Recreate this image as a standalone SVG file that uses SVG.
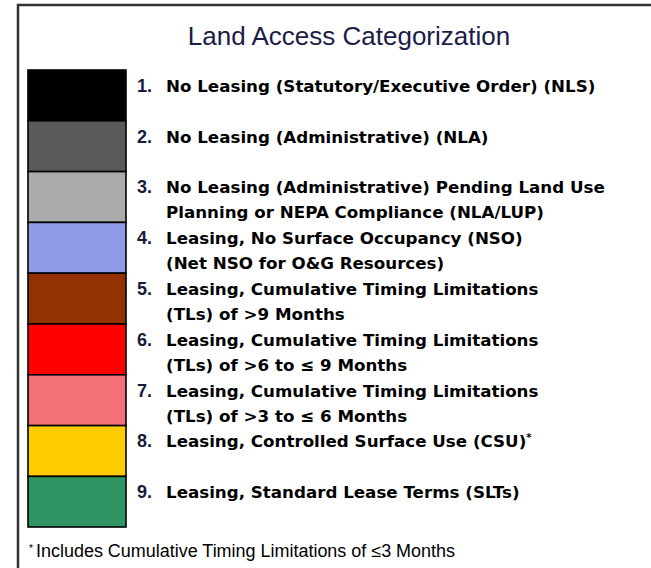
<svg xmlns="http://www.w3.org/2000/svg" width="651" height="568" viewBox="0 0 651 568">
<style>
.frame{fill:#ffffff;stroke:#333333;stroke-width:2.5}
.sw{stroke:#000000;stroke-width:1.6}
.num{font-family:"Liberation Sans",Arial,sans-serif;font-weight:bold;font-size:18px;fill:#1a1a3c}
.lbl{font-family:"DejaVu Sans","Liberation Sans",sans-serif;font-weight:bold;font-size:16.7px;fill:#000000}
.title{font-family:"Liberation Sans",Arial,sans-serif;font-size:26px;fill:#1c1c48}
.foot{font-family:"Liberation Sans",Arial,sans-serif;font-size:17.5px;fill:#000000}
</style>
<rect x="0" y="0" width="651" height="568" fill="#ffffff"/>
<rect class="frame" x="18" y="5" width="700" height="620"/>
<text class="title" x="349" y="45" text-anchor="middle">Land Access Categorization</text>
<g id="cat1">
<rect class="sw" x="28" y="70" width="98" height="50.8" fill="#000000"/>
<text class="num" x="137" y="91.8">1.</text>
<text class="lbl" x="166" y="91.8">No Leasing (Statutory/Executive Order) (NLS)</text>
</g>
<g id="cat2">
<rect class="sw" x="28" y="120.8" width="98" height="50.8" fill="#5a5a5a"/>
<text class="num" x="137" y="142.6">2.</text>
<text class="lbl" x="166" y="142.6">No Leasing (Administrative) (NLA)</text>
</g>
<g id="cat3">
<rect class="sw" x="28" y="171.6" width="98" height="50.8" fill="#ababab"/>
<text class="num" x="137" y="193.4">3.</text>
<text class="lbl" x="166" y="193.4">No Leasing (Administrative) Pending Land Use</text>
<text class="lbl" x="166" y="218.4">Planning or NEPA Compliance (NLA/LUP)</text>
</g>
<g id="cat4">
<rect class="sw" x="28" y="222.4" width="98" height="50.8" fill="#8f9be6"/>
<text class="num" x="137" y="244.2">4.</text>
<text class="lbl" x="166" y="244.2">Leasing, No Surface Occupancy (NSO)</text>
<text class="lbl" x="166" y="269.2">(Net NSO for O&amp;G Resources)</text>
</g>
<g id="cat5">
<rect class="sw" x="28" y="273.2" width="98" height="50.8" fill="#933200"/>
<text class="num" x="137" y="295">5.</text>
<text class="lbl" x="166" y="295">Leasing, Cumulative Timing Limitations</text>
<text class="lbl" x="166" y="320">(TLs) of &gt;9 Months</text>
</g>
<g id="cat6">
<rect class="sw" x="28" y="324" width="98" height="50.8" fill="#ff0000"/>
<text class="num" x="137" y="345.8">6.</text>
<text class="lbl" x="166" y="345.8">Leasing, Cumulative Timing Limitations</text>
<text class="lbl" x="166" y="370.8">(TLs) of &gt;6 to ≤ 9 Months</text>
</g>
<g id="cat7">
<rect class="sw" x="28" y="374.8" width="98" height="50.8" fill="#f47078"/>
<text class="num" x="137" y="396.6">7.</text>
<text class="lbl" x="166" y="396.6">Leasing, Cumulative Timing Limitations</text>
<text class="lbl" x="166" y="421.6">(TLs) of &gt;3 to ≤ 6 Months</text>
</g>
<g id="cat8">
<rect class="sw" x="28" y="425.6" width="98" height="50.8" fill="#ffcc00"/>
<text class="num" x="137" y="447.4">8.</text>
<text class="lbl" x="166" y="447.4">Leasing, Controlled Surface Use (CSU)<tspan font-size="10px" dy="-6">*</tspan></text>
</g>
<g id="cat9">
<rect class="sw" x="28" y="476.4" width="98" height="50.6" fill="#2f9562"/>
<text class="num" x="137" y="498.2">9.</text>
<text class="lbl" x="166" y="498.2">Leasing, Standard Lease Terms (SLTs)</text>
</g>
<g id="connectors"/>
<g id="footnote">
<text class="foot" x="29" y="557"><tspan font-size="10px" dy="-5">*</tspan><tspan dy="5" x="36" textLength="419" lengthAdjust="spacingAndGlyphs">Includes Cumulative Timing Limitations of ≤3 Months</tspan></text>
</g>
</svg>
